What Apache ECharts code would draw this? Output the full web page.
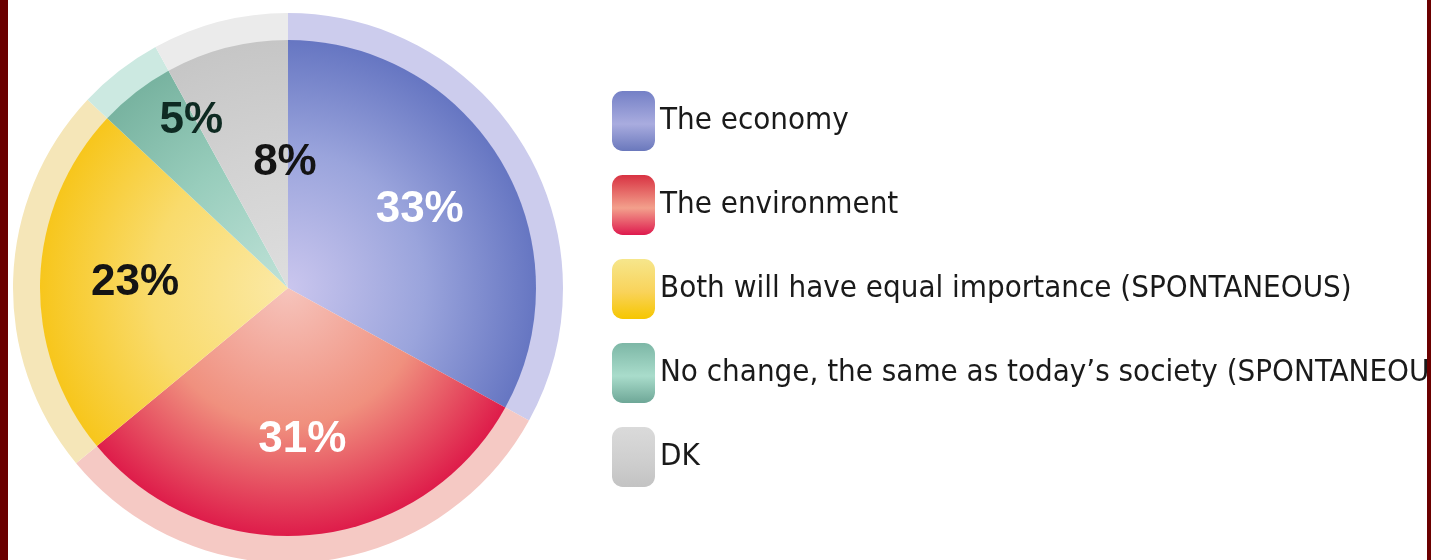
<!DOCTYPE html>
<html>
<head>
<meta charset="utf-8">
<title>Economy or environment</title>
<script src="https://cdn.jsdelivr.net/npm/echarts@6/dist/echarts.min.js"></script>
<style>
  html, body { margin: 0; padding: 0; background: #ffffff; }
  #wrap { position: relative; width: 1431px; height: 560px; overflow: hidden; background: #ffffff; }
  #chart { position: absolute; left: 0; top: 0; width: 1431px; height: 560px; }
  .edge { position: absolute; top: 0; height: 560px; background: #6b0000; z-index: 5; }
</style>
</head>
<body>
<div id="wrap">
  <div id="chart"></div>
  <div class="edge" style="left:0;width:8px"></div>
  <div class="edge" style="left:1427px;width:4px"></div>
</div>
<script>
// Answer categories and their shares (%)
const categories = [
  'The economy',
  'The environment',
  'Both will have equal importance (SPONTANEOUS)',
  'No change, the same as today\u2019s society (SPONTANEOUS)',
  'DK'
];
const shares = [33, 31, 23, 5, 8];

// Slice shading: [centre, middle, rim edge] of the body, plus the outer halo colour
const bodyColors = [
  ['#cac6ee', '#9aa4dc', '#6676c2'],
  ['#f6c4bc', '#f0907e', '#de1c4a'],
  ['#fbe9a6', '#f9db6c', '#f7c61c'],
  ['#bfe2d8', '#98cdbc', '#78b3a0'],
  ['#dedede', '#d2d2d2', '#c6c6c6']
];
const haloColors = ['#cccced', '#f5c9c4', '#f5e6b8', '#cce9e1', '#ebebeb'];
const legendColors = [
  ['#7480c6', '#a9acdf', '#6a78bc'],
  ['#d83242', '#f3a08c', '#de1a4e'],
  ['#f6e68c', '#f9d35a', '#f6c600'],
  ['#7db7a6', '#a9dccb', '#6ea797'],
  ['#dadada', '#cfcfcf', '#c3c3c3']
];
const labelColors = ['#ffffff', '#ffffff', '#141414', '#0e2a22', '#141414'];

const CX = 288, CY = 288, R_BODY = 248, R_HALO = 275;

const chart = echarts.init(document.getElementById('chart'), null, { renderer: 'canvas' });

const bodyData = categories.map((name, i) => ({
  name,
  value: shares[i],
  itemStyle: {
    color: new echarts.graphic.RadialGradient(CX, CY, R_BODY, [
      { offset: 0, color: bodyColors[i][0] },
      { offset: 0.55, color: bodyColors[i][1] },
      { offset: 1, color: bodyColors[i][2] }
    ], true)
  }
}));

const haloData = categories.map((name, i) => ({
  name,
  value: shares[i],
  itemStyle: { color: haloColors[i] }
}));

// Narrow slices carry their label off the mid-angle: blank spacer lines above/below
// move the text vertically, padding moves it sideways.
const labelSpacer = [null, null, null, { below: 92, pad: [0, 6, 0, 0] }, { above: 46, pad: [0, 0, 0, 70] }];

const labelData = categories.map((name, i) => {
  const label = { color: labelColors[i] };
  const sp = labelSpacer[i];
  if (sp) {
    label.padding = sp.pad;
    label.formatter = p => (sp.above ? '{gap|}\n' : '') + '{v|' + p.value + '%}' + (sp.below ? '\n{gap|}' : '');
    label.rich = {
      v: { color: labelColors[i], fontFamily: "'Liberation Sans', Arial, sans-serif", fontWeight: 'bold', fontSize: 44, lineHeight: 50 },
      gap: { lineHeight: sp.above || sp.below, fontSize: 1 }
    };
  }
  return { name, value: shares[i], label, itemStyle: { color: 'rgba(0,0,0,0)' } };
});

const legendData = categories.map((name, i) => ({
  name,
  icon: 'roundRect',
  itemStyle: {
    color: new echarts.graphic.LinearGradient(0, 0, 0, 1, [
      { offset: 0, color: legendColors[i][0] },
      { offset: 0.55, color: legendColors[i][1] },
      { offset: 1, color: legendColors[i][2] }
    ])
  }
}));

chart.setOption({
  animation: false,
  backgroundColor: '#ffffff',
  legend: {
    orient: 'vertical',
    left: 612,
    top: 91,
    padding: 0,
    itemWidth: 43,
    itemHeight: 60,
    itemGap: 24,
    selectedMode: false,
    data: legendData,
    textStyle: {
      fontFamily: "'DejaVu Sans Condensed', 'Liberation Sans', sans-serif",
      fontSize: 31,
      color: '#1a1a1a'
    }
  },
  series: [
    {
      name: 'halo',
      type: 'pie',
      center: [CX, CY],
      radius: [R_BODY - 1, R_HALO],
      startAngle: 90,
      clockwise: true,
      silent: true,
      label: { show: false },
      labelLine: { show: false },
      data: haloData
    },
    {
      name: 'body',
      type: 'pie',
      center: [CX, CY],
      radius: [0, R_BODY],
      startAngle: 90,
      clockwise: true,
      silent: true,
      label: { show: false },
      labelLine: { show: false },
      data: bodyData
    },
    {
      name: 'labels',
      type: 'pie',
      center: [CX, CY],
      radius: [52, R_BODY],
      startAngle: 90,
      clockwise: true,
      silent: true,
      z: 5,
      label: {
        show: true,
        position: 'inside',
        formatter: p => p.value + '%',
        fontFamily: "'Liberation Sans', Arial, sans-serif",
        fontWeight: 'bold',
        fontSize: 44
      },
      labelLine: { show: false },
      data: labelData
    }
  ]
});
</script>
</body>
</html>
